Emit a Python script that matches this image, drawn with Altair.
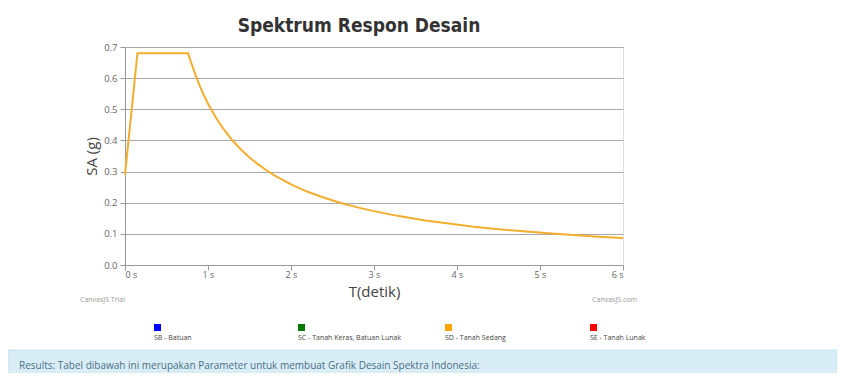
import altair as alt
import pandas as pd

# Response spectrum values
T_sec = [0.0, 0.15, 0.76, 0.8, 0.85, 0.9, 0.95, 1.0, 1.1, 1.2, 1.3, 1.4, 1.5, 1.6, 1.7, 1.8, 1.9, 2.0,
         2.2, 2.4, 2.6, 2.8, 3.0, 3.3, 3.6, 3.9, 4.2, 4.5, 4.8, 5.1, 5.4, 5.7, 6.0]
SA_g = [0.29, 0.68, 0.68, 0.648, 0.61, 0.576, 0.545, 0.518, 0.471, 0.432, 0.398, 0.37, 0.345, 0.324,
        0.305, 0.288, 0.273, 0.259, 0.235, 0.216, 0.199, 0.185, 0.173, 0.157, 0.144, 0.133, 0.123,
        0.115, 0.108, 0.102, 0.096, 0.091, 0.087]

y_ticks = [0, 0.1, 0.2, 0.3, 0.4, 0.5, 0.6, 0.7]
x_ticks = [0, 1, 2, 3, 4, 5, 6]

legend_labels = ["SB - Batuan", "SC - Tanah Keras, Batuan Lunak", "SD - Tanah Sedang", "SE - Tanah Lunak"]
legend_colors = ["#0000ff", "#007a00", "#ffa500", "#ff0000"]
legend_x = [29, 173, 320, 465]  # pixel positions of legend entries

title_text = "Spektrum Respon Desain"
results_text = "Results: Tabel dibawah ini merupakan Parameter untuk membuat Grafik Desain Spektra Indonesia:"

df = pd.DataFrame({"T": T_sec, "SA": SA_g})
leg = pd.DataFrame({"label": legend_labels, "color": legend_colors})
one = pd.DataFrame({"a": [0]})

W, H = 498, 218

line = alt.Chart(df).mark_line(color="#f3ae2e", strokeWidth=2, interpolate="linear").encode(
    x=alt.X("T:Q", scale=alt.Scale(domain=[0, 6], nice=False),
            axis=alt.Axis(values=x_ticks, labelExpr="datum.value + ' s'", title="T(detik)",
                          grid=False, domainColor="#999", tickColor="#999", tickSize=5,
                          labelColor="#666", labelFontSize=9, labelFont="Open Sans",
                          titleFont="Open Sans", titleFontSize=15, titleFontWeight="normal",
                          titleColor="#444", titlePadding=5, labelPadding=0)),
    y=alt.Y("SA:Q", scale=alt.Scale(domain=[0, 0.7], nice=False),
            axis=alt.Axis(values=y_ticks, title="SA (g)", grid=True, gridColor="#a9a9a9",
                          domainColor="#999", tickColor="#999", tickSize=5,
                          labelColor="#666", labelFontSize=9.5, labelFont="Open Sans",
                          titleFont="Open Sans", titleFontSize=15, titleFontWeight="normal",
                          titleColor="#444", titlePadding=4, labelPadding=3)),
)

title = alt.Chart(one).mark_text(font="DejaVu Sans Condensed, DejaVu Sans", fontSize=19, fontWeight="bold",
                                 color="#333", align="center", baseline="middle").encode(
    x=alt.value(234), y=alt.value(-21), text=alt.value(title_text))

trial = alt.Chart(one).mark_text(fontSize=7, color="#999", align="left", baseline="middle",
                                 font="Open Sans").encode(
    x=alt.value(-45), y=alt.value(253), text=alt.value("CanvasJS Trial"))
com = alt.Chart(one).mark_text(fontSize=7, color="#999", align="right", baseline="middle",
                               font="Open Sans").encode(
    x=alt.value(512), y=alt.value(253), text=alt.value("CanvasJS.com"))

leg_layers = []
for lab, px in zip(legend_labels, legend_x):
    sub = alt.Chart(leg).transform_filter(alt.datum.label == lab)
    leg_layers.append(sub.mark_rect(opacity=1).encode(
        x=alt.value(px), x2=alt.value(px + 7), y=alt.value(277), y2=alt.value(284),
        color=alt.Color("color:N", scale=None, legend=None)))
    leg_layers.append(sub.mark_text(fontSize=7, color="#444", align="left", baseline="middle",
                                    font="Open Sans").encode(
        x=alt.value(px), y=alt.value(291), text="label:N"))

box = alt.Chart(one).mark_rect(color="#d9edf7", stroke="#c3e2f0", strokeWidth=1).encode(
    x=alt.value(-117), x2=alt.value(712), y=alt.value(303), y2=alt.value(340))
box_tx = alt.Chart(one).mark_text(fontSize=10, color="#4a6f85", align="left", baseline="middle",
                                  font="Open Sans").encode(
    x=alt.value(-106), y=alt.value(319), text=alt.value(results_text))

chart = alt.layer(box, box_tx, line, title, trial, com, *leg_layers).properties(
    width=W, height=H,
    autosize=alt.AutoSizeParams(type="none"),
    padding={"left": 117, "top": 39, "right": 214, "bottom": 108},
).configure_view(strokeWidth=0, stroke="transparent").configure(background="white")

chart.save("out.html", embed_options={"renderer": "svg", "actions": False})
